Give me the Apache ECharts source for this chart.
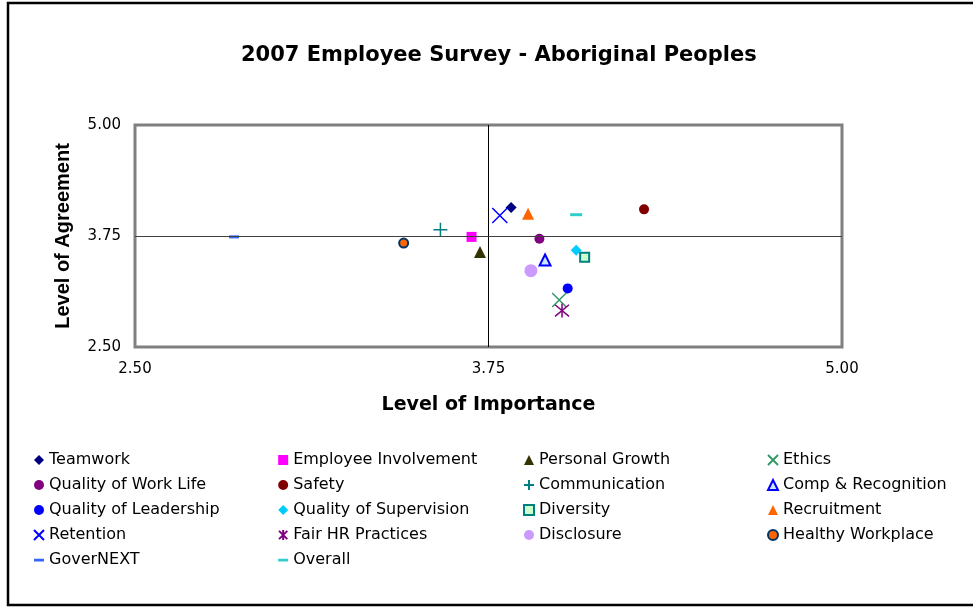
<!DOCTYPE html>
<html>
<head>
<meta charset="utf-8">
<script src="https://cdn.jsdelivr.net/npm/echarts@6/dist/echarts.min.js"></script>
<style>
  html, body { margin: 0; padding: 0; background: #fff; }
  #chart { width: 973px; height: 607px; }
</style>
</head>
<body>
<div id="chart"></div>
<script>
// Survey dimensions and their mean scores
const dimensions = [
  'Teamwork', 'Employee Involvement', 'Personal Growth', 'Ethics',
  'Quality of Work Life', 'Safety', 'Communication', 'Comp & Recognition',
  'Quality of Leadership', 'Quality of Supervision', 'Diversity', 'Recruitment',
  'Retention', 'Fair HR Practices', 'Disclosure', 'Healthy Workplace',
  'GoverNEXT', 'Overall'
];
const importance = [
  3.83, 3.69, 3.72, 4.00,
  3.93, 4.30, 3.58, 3.95,
  4.03, 4.06, 4.09, 3.89,
  3.79, 4.01, 3.90, 3.45,
  2.85, 4.06
];
const agreement = [
  4.07, 3.74, 3.57, 3.03,
  3.72, 4.05, 3.82, 3.48,
  3.16, 3.59, 3.51, 4.00,
  3.98, 2.91, 3.36, 3.67,
  3.74, 3.99
];
const axisTicks = [2.50, 3.75, 5.00];
const midpoint = 3.75;

// Legend columns
const legendColumns = [
  ['Teamwork', 'Quality of Work Life', 'Quality of Leadership', 'Retention', 'GoverNEXT'],
  ['Employee Involvement', 'Safety', 'Quality of Supervision', 'Fair HR Practices', 'Overall'],
  ['Personal Growth', 'Communication', 'Diversity', 'Disclosure'],
  ['Ethics', 'Comp & Recognition', 'Recruitment', 'Healthy Workplace']
];

const FONT = "'DejaVu Sans', 'Liberation Sans', Arial, sans-serif";
const NARROW_FONT = "'Liberation Sans', Arial, sans-serif";
const X_PATH = 'path://M0,0 L10,10 M10,0 L0,10';
const PLUS_PATH = 'path://M5,0 L5,10 M0,5 L10,5';
const STAR_PATH = 'path://M0,0 L10,10 M10,0 L0,10 M5,-1 L5,11';
const DASH_ICON = 'path://M0,0 L0.01,0 M0,3.8 L10,3.8 L10,6.6 L0,6.6 Z M0,10 L0.01,10';

// Marker styling for each dimension
const markerStyles = {
  'Teamwork':               { symbol: 'diamond', size: 11, color: '#000080' },
  'Employee Involvement':   { symbol: 'rect', size: 10, color: '#FF00FF' },
  'Personal Growth':        { symbol: 'triangle', size: 12, color: '#333300' },
  'Ethics':                 { symbol: X_PATH, size: 14, color: '#339966', stroke: 1.5 },
  'Quality of Work Life':   { symbol: 'circle', size: 10, color: '#800080' },
  'Safety':                 { symbol: 'circle', size: 10, color: '#800000' },
  'Communication':          { symbol: PLUS_PATH, size: 14, color: '#008080', stroke: 1.5 },
  'Comp & Recognition':     { symbol: 'triangle', size: 11, color: '#CCE6FF', border: '#0000FF', borderWidth: 2 },
  'Quality of Leadership':  { symbol: 'circle', size: 10, color: '#0000FF' },
  'Quality of Supervision': { symbol: 'diamond', size: 11, color: '#00CCFF' },
  'Diversity':              { symbol: 'rect', size: 9, color: '#CCFFCC', border: '#008080', borderWidth: 2 },
  'Recruitment':            { symbol: 'triangle', size: 12, color: '#FF6600' },
  'Retention':              { symbol: X_PATH, size: 15, color: '#0000FF', stroke: 1.5 },
  'Fair HR Practices':      { symbol: STAR_PATH, size: 14, color: '#800080', stroke: 1.5 },
  'Disclosure':             { symbol: 'circle', size: 13, color: '#CC99FF' },
  'Healthy Workplace':      { symbol: 'circle', size: 9, color: '#FF6600', border: '#003366', borderWidth: 2 },
  'GoverNEXT':              { symbol: 'rect', size: [10, 3], color: '#3366FF', legendIcon: DASH_ICON },
  'Overall':                { symbol: 'rect', size: [12, 3], color: '#33CCCC', legendIcon: DASH_ICON }
};

const series = dimensions.map((name, i) => {
  const s = markerStyles[name];
  const itemStyle = { color: s.color, opacity: 1 };
  if (s.stroke) {
    itemStyle.borderColor = s.color;
    itemStyle.borderWidth = s.stroke;
  } else if (s.border) {
    itemStyle.borderColor = s.border;
    itemStyle.borderWidth = s.borderWidth;
  }
  return {
    name: name,
    type: 'scatter',
    symbol: s.symbol,
    symbolSize: s.size,
    itemStyle: itemStyle,
    z: 3,
    data: [[importance[i], agreement[i]]]
  };
});

// Quadrant divider lines at the scale midpoint
series.unshift({
  name: 'quadrants',
  type: 'line',
  data: [],
  z: 1,
  markLine: {
    silent: true,
    symbol: 'none',
    label: { show: false },
    animation: false,
    data: [
      { xAxis: midpoint, lineStyle: { color: '#000000', width: 1, type: 'solid' } },
      { yAxis: midpoint, lineStyle: { color: '#404040', width: 1, type: 'solid' } }
    ]
  }
});

const legendLeft = [33, 278, 523, 767];
const legends = legendColumns.map((col, k) => ({
  orient: 'vertical',
  left: legendLeft[k],
  top: 450,
  padding: 0,
  itemWidth: 10,
  itemHeight: 10,
  itemGap: 5,
  selectedMode: false,
  textStyle: { fontFamily: FONT, fontSize: 16, color: '#000', lineHeight: 20 },
  data: col.map(n => markerStyles[n].legendIcon ? { name: n, icon: markerStyles[n].legendIcon } : n)
}));

const fmt = v => v.toFixed(2);

const option = {
  animation: false,
  backgroundColor: '#ffffff',
  title: {
    text: '2007 Employee Survey - Aboriginal Peoples',
    left: 236,
    top: 40,
    textStyle: { fontFamily: FONT, fontSize: 21, fontWeight: 'bold', color: '#000' }
  },
  grid: {
    left: 135, right: 131, top: 125, bottom: 260,
    show: true,
    borderColor: '#808080',
    borderWidth: 3,
    backgroundColor: '#ffffff'
  },
  legend: legends,
  xAxis: {
    type: 'value',
    min: axisTicks[0],
    max: axisTicks[axisTicks.length - 1],
    interval: axisTicks[1] - axisTicks[0],
    name: 'Level of Importance',
    nameLocation: 'middle',
    nameGap: 49,
    nameTextStyle: { fontFamily: FONT, fontSize: 19, fontWeight: 'bold', color: '#000' },
    axisLine: { show: false },
    axisTick: { show: false },
    splitLine: { show: false },
    axisLabel: { fontFamily: FONT, fontSize: 15, color: '#000', margin: 15, formatter: fmt }
  },
  yAxis: {
    type: 'value',
    min: axisTicks[0],
    max: axisTicks[axisTicks.length - 1],
    interval: axisTicks[1] - axisTicks[0],
    name: 'Level of Agreement',
    nameLocation: 'middle',
    nameGap: 62,
    nameRotate: 90,
    nameTextStyle: { fontFamily: NARROW_FONT, fontSize: 20, fontWeight: 'bold', color: '#000' },
    axisLine: { show: false },
    axisTick: { show: false },
    splitLine: { show: false },
    axisLabel: { fontFamily: FONT, fontSize: 15, color: '#000', margin: 14, formatter: fmt }
  },
  graphic: [{
    type: 'rect',
    shape: { x: 8, y: 3, width: 980, height: 602 },
    style: { fill: 'none', stroke: '#000', lineWidth: 2.5 },
    silent: true,
    z: 100
  }],
  series: series
};

const chart = echarts.init(document.getElementById('chart'), null, { renderer: 'canvas' });
chart.setOption(option);
</script>
</body>
</html>
